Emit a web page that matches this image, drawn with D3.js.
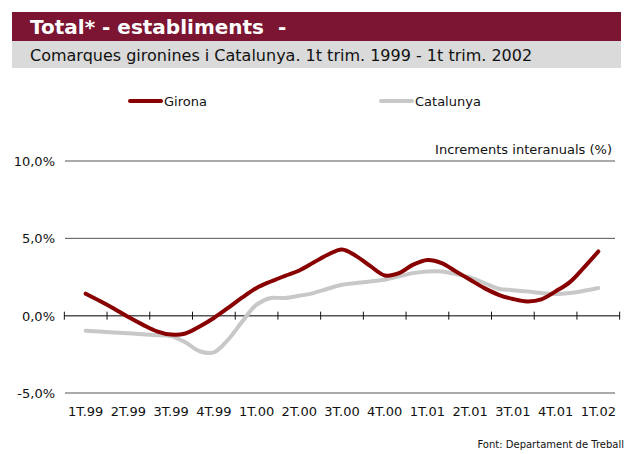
<!DOCTYPE html>
<html>
<head>
<meta charset="utf-8">
<script src="https://cdn.jsdelivr.net/npm/d3@7"></script>
<style>
  body { margin: 0; background: #fff; }
  svg { display: block; font-family: "DejaVu Sans", sans-serif; }
</style>
</head>
<body>
<svg></svg>
<script>
// quarter labels on the x axis
var quarters = ["1T.99", "2T.99", "3T.99", "4T.99", "1T.00", "2T.00", "3T.00",
  "4T.00", "1T.01", "2T.01", "3T.01", "4T.01", "1T.02"];

// monthly year-on-year increments (%)
var girona = [1.42, 0.95, 0.45, -0.09, -0.58, -1.01, -1.22, -1.15, -0.7, -0.15,
  0.5, 1.18, 1.79, 2.21, 2.58, 2.92, 3.43, 3.94, 4.28, 3.85, 3.2, 2.6, 2.75,
  3.3, 3.6, 3.4, 2.86, 2.32, 1.78, 1.35, 1.08, 0.92, 1.05, 1.57, 2.17, 3.12, 4.15];
var catalunya = [-0.97, -1.03, -1.09, -1.14, -1.2, -1.26, -1.32, -1.72, -2.3,
  -2.37, -1.55, -0.37, 0.71, 1.14, 1.14, 1.29, 1.46, 1.74, 2.0, 2.11, 2.21,
  2.32, 2.54, 2.75, 2.86, 2.86, 2.69, 2.47, 2.11, 1.74, 1.65, 1.57, 1.46, 1.4,
  1.46, 1.61, 1.79];

var yTicks = [-5, 0, 5, 10];

var width = 632;
var height = 454;

var svg = d3.select("svg")
  .attr("width", width)
  .attr("height", height);

// header bars
svg.append("rect")
  .attr("x", 12).attr("y", 12).attr("width", 609).attr("height", 29)
  .attr("fill", "#7b1531");
svg.append("rect")
  .attr("x", 12).attr("y", 41).attr("width", 609).attr("height", 27)
  .attr("fill", "#dadada");
svg.append("text")
  .attr("x", 30).attr("y", 34)
  .attr("fill", "#fff")
  .attr("font-size", 20)
  .attr("font-weight", "bold")
  .attr("xml:space", "preserve")
  .text("Total* - establiments  -");
svg.append("text")
  .attr("x", 30).attr("y", 61)
  .attr("fill", "#111")
  .attr("font-size", 16)
  .text("Comarques gironines i Catalunya. 1t trim. 1999 - 1t trim. 2002");

// scales: months 0..36, quarters every 3 months
var x = d3.scaleLinear().domain([0, 36]).range([85.7, 598.3]);
var y = d3.scaleLinear().domain([-5, 10]).range([393, 161]);

// grid lines
svg.append("g").selectAll("line")
  .data(yTicks.filter(function(d) { return d != 0; }))
  .enter()
  .append("line")
  .attr("x1", 65).attr("x2", 615)
  .attr("y1", function(d) { return y(d); })
  .attr("y2", function(d) { return y(d); })
  .attr("stroke", "#555")
  .attr("stroke-width", 1);

// y labels
svg.append("g").selectAll("text")
  .data(yTicks)
  .enter()
  .append("text")
  .attr("x", 55)
  .attr("y", function(d) { return y(d) + 5; })
  .attr("text-anchor", "end")
  .attr("font-size", 13)
  .attr("fill", "#111")
  .text(function(d) { return d.toFixed(1).replace(".", ",") + "%"; });

// zero axis with ticks between quarters
var axisY = y(0);
svg.append("line")
  .attr("x1", x(-1.5)).attr("x2", x(37.5))
  .attr("y1", axisY).attr("y2", axisY)
  .attr("stroke", "#555")
  .attr("stroke-width", 1.5);
svg.append("g").selectAll("line")
  .data(d3.range(quarters.length + 1))
  .enter()
  .append("line")
  .attr("x1", function(d) { return x(d * 3 - 1.5); })
  .attr("x2", function(d) { return x(d * 3 - 1.5); })
  .attr("y1", axisY - 4).attr("y2", axisY + 4)
  .attr("stroke", "#111")
  .attr("stroke-width", 1);

// x labels
svg.append("g").selectAll("text")
  .data(quarters)
  .enter()
  .append("text")
  .attr("x", function(d, i) { return x(i * 3); })
  .attr("y", 416)
  .attr("text-anchor", "middle")
  .attr("font-size", 13)
  .attr("fill", "#111")
  .text(function(d) { return d; });

// lines
var line = d3.line()
  .x(function(d, i) { return x(i); })
  .y(function(d) { return y(d); })
  .curve(d3.curveCatmullRom.alpha(0.5));

svg.append("path")
  .datum(catalunya)
  .attr("d", line)
  .attr("fill", "none")
  .attr("stroke", "#c8c8c8")
  .attr("stroke-width", 4)
  .attr("stroke-linecap", "round");
svg.append("path")
  .datum(girona)
  .attr("d", line)
  .attr("fill", "none")
  .attr("stroke", "#880000")
  .attr("stroke-width", 4)
  .attr("stroke-linecap", "round");

// legend
var legend = [
  { name: "Girona", color: "#880000", x: 130 },
  { name: "Catalunya", color: "#c8c8c8", x: 381 }
];
var lg = svg.append("g").selectAll("g")
  .data(legend)
  .enter()
  .append("g");
lg.append("line")
  .attr("x1", function(d) { return d.x; })
  .attr("x2", function(d) { return d.x + 31; })
  .attr("y1", 101).attr("y2", 101)
  .attr("stroke", function(d) { return d.color; })
  .attr("stroke-width", 4)
  .attr("stroke-linecap", "round");
lg.append("text")
  .attr("x", function(d) { return d.x + 34; })
  .attr("y", 106)
  .attr("font-size", 13)
  .attr("fill", "#111")
  .text(function(d) { return d.name; });

svg.append("text")
  .attr("x", 612).attr("y", 154)
  .attr("text-anchor", "end")
  .attr("font-size", 13)
  .attr("fill", "#111")
  .text("Increments interanuals (%)");

svg.append("text")
  .attr("x", 624).attr("y", 448)
  .attr("text-anchor", "end")
  .attr("font-size", 10)
  .attr("fill", "#111")
  .text("Font: Departament de Treball");
</script>
</body>
</html>
